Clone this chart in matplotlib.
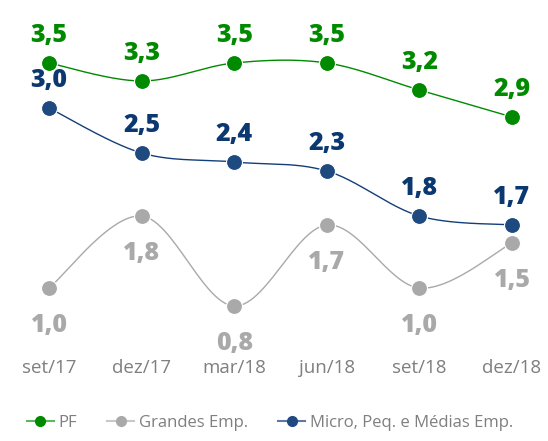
import numpy as np
import matplotlib
matplotlib.use("Agg")
import matplotlib.pyplot as plt
from matplotlib.lines import Line2D

# 数据：季度标签与三条序列的数值
quarters = ["set/17", "dez/17", "mar/18", "jun/18", "set/18", "dez/18"]
pf_values = [3.5, 3.3, 3.5, 3.5, 3.2, 2.9]
grandes_values = [1.0, 1.8, 0.8, 1.7, 1.0, 1.5]
mpme_values = [3.0, 2.5, 2.4, 2.3, 1.8, 1.7]

series_names = ["PF", "Grandes Emp.", "Micro, Peq. e Médias Emp."]

GREEN = "#008a00"
GREY = "#a9a9a9"
NAVY_LINE = "#123f78"
NAVY_MARK = "#1f4a80"
NAVY_TEXT = "#0b3870"
TICK_GREY = "#7f7f7f"

plt.rcParams["font.family"] = ["Open Sans", "DejaVu Sans"]


def smooth_curve(x, y, steps=30):
    """类似 Excel 平滑线：用三次贝塞尔曲线穿过每个数据点。"""
    x = np.asarray(x, dtype=float)
    y = np.asarray(y, dtype=float)
    n = len(x)
    xs, ys = [], []
    t = np.linspace(0, 1, steps)
    for i in range(n - 1):
        p0 = np.array([x[max(i - 1, 0)], y[max(i - 1, 0)]])
        p1 = np.array([x[i], y[i]])
        p2 = np.array([x[i + 1], y[i + 1]])
        p3 = np.array([x[min(i + 2, n - 1)], y[min(i + 2, n - 1)]])
        c1 = p1 + (p2 - p0) / 6
        c2 = p2 - (p3 - p1) / 6
        b = ((1 - t) ** 3)[:, None] * p1 + (3 * (1 - t) ** 2 * t)[:, None] * c1 \
            + (3 * (1 - t) * t ** 2)[:, None] * c2 + (t ** 3)[:, None] * p2
        xs.extend(b[:, 0])
        ys.extend(b[:, 1])
    return xs, ys


def draw_series(ax, values, line_color, marker_color, text_color, above):
    x = np.arange(len(values))
    sx, sy = smooth_curve(x, values)
    ax.plot(sx, sy, color=line_color, lw=1.0, zorder=2)
    ax.plot(x, values, ls="none", marker="o", ms=11.5, mfc=marker_color,
            mec="white", mew=0.8, zorder=3)
    dy = 20 if above else -27
    for xi, v in zip(x, values):
        ax.annotate(f"{v:.1f}".replace(".", ","), (xi, v),
                    xytext=(0, dy), textcoords="offset points",
                    ha="center", va="center", fontsize=18,
                    fontweight="heavy", color=text_color, zorder=4)


fig = plt.figure(figsize=(5.48, 4.41), dpi=100)
ax = fig.add_axes([0.0219, 0.2449, 0.980, 0.7143])

draw_series(ax, grandes_values, GREY, GREY, GREY, above=False)
draw_series(ax, mpme_values, NAVY_LINE, NAVY_MARK, NAVY_TEXT, above=True)
draw_series(ax, pf_values, GREEN, GREEN, GREEN, above=True)

ax.set_xlim(-0.4, 5.4)
ax.set_ylim(0.5, 4.0)
ax.set_xticks(range(len(quarters)))
ax.set_xticklabels(quarters, fontsize=13.5, color=TICK_GREY)
ax.tick_params(axis="x", length=0, pad=19)
ax.set_yticks([])
for spine in ax.spines.values():
    spine.set_visible(False)

handles = [
    Line2D([], [], color="#5cb85c", lw=1.5, marker="o", ms=7, mfc=GREEN, mec=GREEN),
    Line2D([], [], color="#c8c8c8", lw=1.5, marker="o", ms=7, mfc=GREY, mec=GREY),
    Line2D([], [], color="#5a7aa5", lw=1.5, marker="o", ms=7, mfc=NAVY_MARK, mec=NAVY_MARK),
]
fig.legend(handles, series_names, loc="center", bbox_to_anchor=(0.493, 0.041),
           ncol=3, frameon=False, fontsize=12, labelcolor=TICK_GREY,
           handlelength=1.6, handletextpad=0.3, columnspacing=1.8)

fig.savefig("out.png", dpi=100)
